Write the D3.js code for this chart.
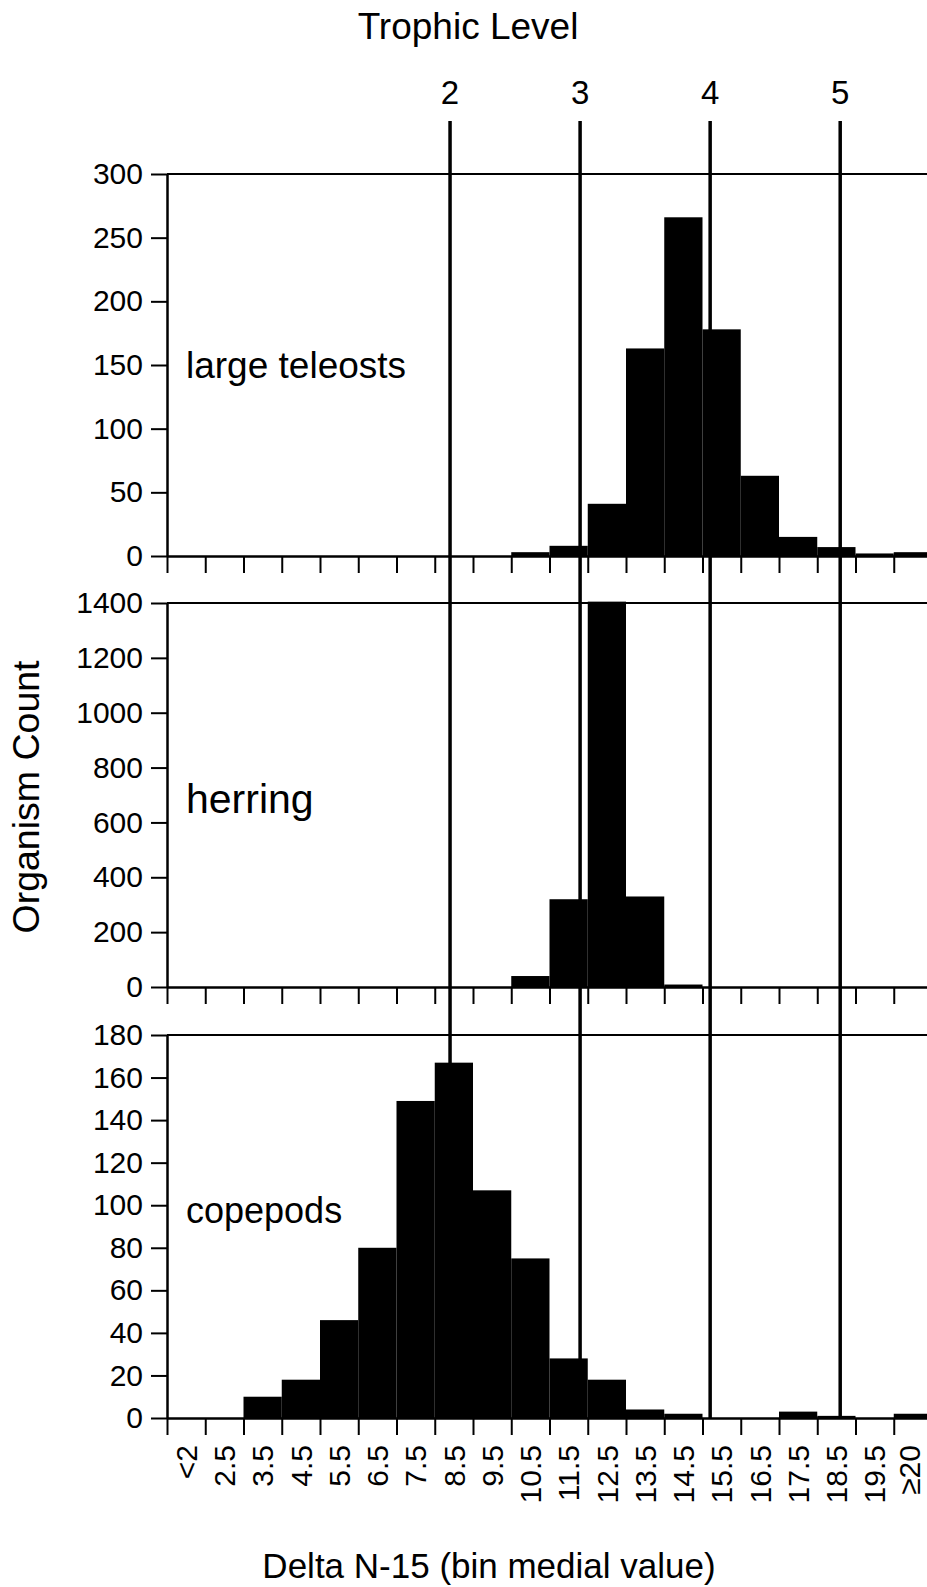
<!DOCTYPE html>
<html>
<head>
<meta charset="utf-8">
<script src="https://cdnjs.cloudflare.com/ajax/libs/d3/7.8.5/d3.min.js"></script>
<style>
  body { margin: 0; background: #fff; }
  svg { display: block; font-family: "Liberation Sans", Arial, sans-serif; }
  .axis path, .axis line { stroke: #000; }
  .axis text { fill: #000; }
</style>
</head>
<body>
<svg id="chart" width="927" height="1587"></svg>
<script>
// bin labels (delta N-15 bin medial value)
var bins = ["<2", "2.5", "3.5", "4.5", "5.5", "6.5", "7.5", "8.5", "9.5", "10.5",
            "11.5", "12.5", "13.5", "14.5", "15.5", "16.5", "17.5", "18.5", "19.5", "\u226520"];

// organism counts per bin
var teleosts = [0, 0, 0, 0, 0, 0, 0, 0, 0, 3, 8, 41, 163, 266, 178, 63, 15, 7, 2, 3];
var herring  = [0, 0, 0, 0, 0, 0, 0, 0, 0, 40, 320, 1405, 330, 9, 0, 0, 0, 0, 0, 0];
var copepods = [0, 0, 10, 18, 46, 80, 149, 167, 107, 75, 28, 18, 4, 2, 0, 0, 3, 1, 0, 2];

// trophic level positions on the delta N-15 axis
var trophicLevels = [2, 3, 4, 5];
var trophicDelta  = [8.4, 11.8, 15.2, 18.6];

var svg = d3.select("#chart");

var left = 167, right = 932;

// band scale for the bins, linear scale for the same axis in per-mil units
var x = d3.scaleBand()
    .domain(bins)
    .range([left, right])
    .paddingInner(0)
    .paddingOuter(0);

var xVal = d3.scaleLinear()
    .domain([1, 21])
    .range([left, right]);

// panels
var panels = [
  { name: "large teleosts", values: teleosts, max: 300,  step: 50,  top: 174,  bottom: 556,  labelY: 378,  labelSize: 37 },
  { name: "herring",        values: herring,  max: 1400, step: 200, top: 603,  bottom: 987,  labelY: 813,  labelSize: 41 },
  { name: "copepods",       values: copepods, max: 180,  step: 20,  top: 1035, bottom: 1418, labelY: 1223, labelSize: 36 }
];

panels.forEach(function(p, pi) {
  var y = d3.scaleLinear()
      .domain([0, p.max])
      .range([p.bottom, p.top]);

  var g = svg.append("g");

  // bars
  g.selectAll("rect")
    .data(p.values)
    .enter().append("rect")
    .attr("x", function(d, i) { return x(bins[i]); })
    .attr("width", x.bandwidth())
    .attr("y", function(d) { return y(d); })
    .attr("height", function(d) { return p.bottom - y(d); })
    .attr("fill", "#000");

  // top frame line
  g.append("line")
    .attr("x1", left).attr("x2", 927)
    .attr("y1", p.top).attr("y2", p.top)
    .attr("stroke", "#000")
    .attr("stroke-width", 2);

  // y axis
  var yAxis = g.append("g")
    .attr("class", "axis")
    .attr("transform", "translate(" + left + ",0)")
    .call(d3.axisLeft(y)
      .tickValues(d3.range(0, p.max + 1, p.step))
      .tickFormat(d3.format("d"))
      .tickSize(16)
      .tickPadding(8)
      .tickSizeOuter(0));
  yAxis.select(".domain").attr("stroke-width", 2.5);
  yAxis.selectAll(".tick line").attr("stroke-width", 2);
  yAxis.selectAll("text")
    .attr("font-size", 30)
    .attr("font-family", "Liberation Sans, Arial, sans-serif");

  // x axis ticks at bin boundaries
  var xAxis = g.append("g")
    .attr("class", "axis")
    .attr("transform", "translate(0," + p.bottom + ")")
    .call(d3.axisBottom(xVal)
      .tickValues(d3.range(1, 22))
      .tickSize(17)
      .tickSizeOuter(0)
      .tickFormat(""));
  xAxis.select(".domain").attr("stroke-width", 2.5);
  xAxis.selectAll(".tick line").attr("stroke-width", 2);

  // panel label
  g.append("text")
    .attr("x", 186)
    .attr("y", p.labelY)
    .attr("font-size", p.labelSize)
    .attr("fill", "#000")
    .text(p.name);

  // bin labels under the bottom panel only
  if (pi === panels.length - 1) {
    var lab = g.append("g")
      .attr("class", "axis")
      .attr("transform", "translate(0," + p.bottom + ")")
      .call(d3.axisBottom(x).tickSize(0).tickPadding(0));
    lab.select(".domain").remove();
    lab.selectAll("text")
      .attr("font-size", 30)
      .attr("font-family", "Liberation Sans, Arial, sans-serif")
      .attr("transform", "rotate(-90)")
      .attr("text-anchor", "end")
      .attr("x", -27)
      .attr("y", function(d, i) { return i === bins.length - 1 ? -4 : 0; })
      .attr("dy", "0.36em");
  }
});

// trophic level lines
var lineTop = 121, lineBottom = panels[2].bottom;

svg.selectAll(".trophic")
  .data(trophicDelta)
  .enter().append("line")
  .attr("class", "trophic")
  .attr("x1", function(d) { return xVal(d); })
  .attr("x2", function(d) { return xVal(d); })
  .attr("y1", lineTop)
  .attr("y2", lineBottom)
  .attr("stroke", "#000")
  .attr("stroke-width", 3.5);

svg.selectAll(".trophicLabel")
  .data(trophicDelta)
  .enter().append("text")
  .attr("class", "trophicLabel")
  .attr("x", function(d) { return xVal(d); })
  .attr("y", 104)
  .attr("text-anchor", "middle")
  .attr("font-size", 33)
  .text(function(d, i) { return trophicLevels[i]; });

// titles
svg.append("text")
  .attr("x", 468)
  .attr("y", 39)
  .attr("text-anchor", "middle")
  .attr("font-size", 37)
  .text("Trophic Level");

svg.append("text")
  .attr("transform", "translate(39,797) rotate(-90)")
  .attr("text-anchor", "middle")
  .attr("font-size", 37.5)
  .text("Organism Count");

svg.append("text")
  .attr("x", 489)
  .attr("y", 1578)
  .attr("text-anchor", "middle")
  .attr("font-size", 35)
  .text("Delta N-15 (bin medial value)");
</script>
</body>
</html>
